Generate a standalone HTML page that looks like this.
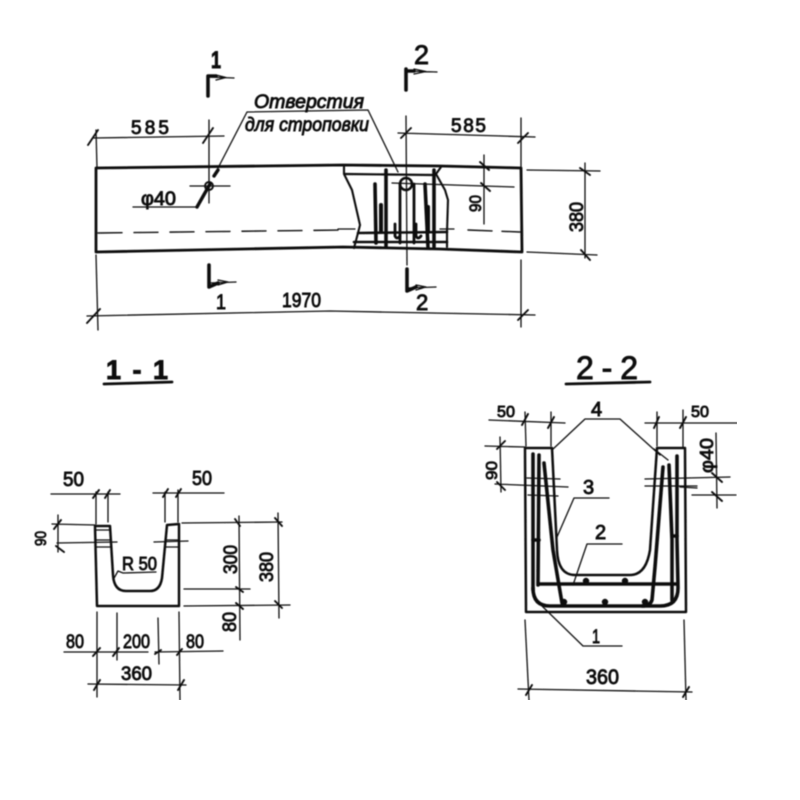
<!DOCTYPE html>
<html><head><meta charset="utf-8"><style>
html,body{margin:0;padding:0;background:#fff}
svg{display:block}
text{font-family:"Liberation Sans",sans-serif;fill:#111;stroke:#111;stroke-width:.9px}
</style></head><body>
<svg width="800" height="800" viewBox="0 0 800 800" xmlns="http://www.w3.org/2000/svg">
<defs><filter id="b" x="0" y="0" width="100%" height="100%"><feGaussianBlur stdDeviation="0.45"/></filter></defs>
<rect width="800" height="800" fill="#fff"/>
<g filter="url(#b)">
<g fill="none" stroke="#111" stroke-linecap="round" stroke-linejoin="round">
<!-- beam -->
<path stroke-width="2.8" d="M96 168L343 165L440 166L521 168L522 252L440 249L343 247L96 252Z"/>
<path stroke-width="1.4" stroke-dasharray="24 12" d="M98 233L345 230"/>
<path stroke-width="1.4" stroke-dasharray="24 10" d="M468 230L520 232"/>
<path stroke-width="1.2" d="M338 229L355 229M440 229L454 229"/>
<!-- dims beam -->
<g stroke-width="1.3">
<path d="M94 138L224 136M96 130L97 168M96 255L98 330"/>
<path d="M209 120L209 203M190 186L230 186"/>
<path d="M87 316L330 311L535 315"/>
<path d="M398 133L535 137M406 116L407 265M521 118L521 168M521 260L521 327"/>
<path d="M527 170L600 171M527 252L597 255M585 163L585 258"/>
<path d="M484 155L484 224M392 183L514 187"/>
<path d="M247 112L368 110L398 172M247 112L217 170"/>
<path d="M133 207L197 207L203 197"/>
</g>
<!-- ticks -->
<g stroke-width="1.9">
<path d="M88 145L98 130M203 143L213 128M401 138L411 128M518 143L528 133M87 323L100 309M518 320L528 310M580 168L590 175M581 250L590 260M480 162L489 170M481 183L490 191"/>
</g>
<path stroke-width="3.4" d="M197 207L210 184M214 176L218 170"/>
<circle cx="209" cy="186" r="4" stroke-width="1.9"/>
<!-- section marks -->
<path stroke-width="3.6" d="M208 76L208 96M209 265L209 287L218 283M406 69L406 90M407 269L407 291L416 287M208 76L216 76M406 71L414 71"/>
<path stroke-width="1.3" d="M208 77L234 78M216 75L226 77.5L216 80M209 283L236 282M218 280L228 282L218 285M407 288L436 287M416 285L426 287L416 290"/>
<path stroke-width="1.3" d="M406 71L437 72M414 69L426 71.5L414 74"/>
<!-- opening -->
<path stroke-width="2.1" d="M344 167L344 174L352 190L360 225L358 233L354 248"/>
<path stroke-width="2.1" d="M441 167L436 174L445 190L448 200L447 232L447 247"/>
<path stroke-width="2.2" d="M345 174L433 175"/>
<path stroke-width="2.6" d="M358 233L447 232M354 242L447 242"/>
<path stroke-width="3.6" d="M375 184L376 243M386 170L386 247M425 184L428 247M434 170L434 247"/>
<path stroke-width="4" d="M381 205L381 232M428 207L428 232"/>
<path stroke-width="2.8" d="M400 184L400 243M414 184L414 243"/>
<circle cx="406" cy="184" r="6" stroke-width="2.6"/>
<path stroke-width="2.8" d="M395 224L395 236Q397 240 400 236M416 224L416 236Q418 240 421 236"/>
<!-- 1-1 -->
<path stroke-width="2.8" d="M172 382L104 384"/>
<path stroke-width="2.5" d="M95 526L110 526L113 575Q114 591 126 591L150 591Q160 591 162 578L167 525L179 524L179 606L97 606Z"/>
<path stroke-width="1.3" d="M96 530L110 530M96 540L111 540M96 547L111 547M165 540L178 540M165 547L178 547"/>
<g stroke-width="1.3">
<path d="M51 494L120 494M96 492L96 524M108 492L108 522M153 493L224 493M165 492L165 522M178 490L178 522"/>
<path d="M52 524L95 525M57 543L117 542M58 515L58 552M154 542L188 541"/>
<path d="M182 523L282 522M239 516L240 640M278 513L279 618M184 589L250 589M184 606L290 605"/>
<path d="M97 612L97 697M117 613L117 660M158 618L159 664M179 612L180 700M64 652L148 652M155 652L223 651"/>
<path d="M88 684L186 685M118 571L123 573L156 572M118 571L113 580"/>
</g>
<g stroke-width="1.9">
<path d="M93 498L99 490M105 498L110 490M163 497L168 489M176 497L181 489M54 529L61 520M56 546L64 552M235 519L240 526M275 518L282 526M236 587L243 592M275 601L282 608M236 603L243 609M93 656L100 648M113 656L119 648M155 654L161 650M177 655L182 649M94 690L100 680M178 690L184 680"/>
</g>
<!-- 2-2 -->
<path stroke-width="2.8" d="M650 382L566 384"/>
<path stroke-width="2.5" d="M525 448L552 448L557 550Q558 575 575 575L630 575Q646 575 650 550L657 448L685 448L686 612L526 612Z"/>
<g stroke-width="3.6">
<path d="M533 454L533 590"/>
<path d="M539 455L538 585"/>
<path d="M544 463L553 550L562 603"/>
<path d="M533 588Q533 606 550 606L660 606Q678 606 678 588L677 540L677 456"/>
<path d="M669 465L672 540L672 600"/>
<path d="M663 467L655 567L652 600Q650 606 642 606"/>
<path d="M540 584L677 584"/>
<path d="M533 540L539 540M672 536L677 536"/>
</g>
<g fill="#111" stroke="none">
<circle cx="564" cy="602" r="3.2"/><circle cx="605" cy="602" r="3.2"/><circle cx="645" cy="602" r="3.2"/><circle cx="586" cy="581" r="3.2"/><circle cx="625" cy="581" r="3.2"/>
</g>
<g stroke-width="1.3">
<path d="M489 420L565 423M525 412L526 446M551 412L551 446M645 423L737 423M657 412L657 446M683 410L683 447"/>
<path d="M485 446L525 447M500 437L501 492M495 484L568 487M527 478L560 479M528 495L558 496M645 486L697 486M645 479L730 477M680 487L697 488M692 495L736 495M716 433L717 508"/>
<path d="M552 450L585 419L620 419L660 455M668 460L654 449"/>
<path d="M557 537L574 498L609 498"/>
<path d="M573 585L587 544L622 544"/>
<path d="M542 606L583 646L622 646"/>
<path d="M525 620L529 700M684 620L686 700M518 689L692 692"/>
</g>
<g stroke-width="1.9">
<path d="M522 425L528 414M548 428L554 417M654 428L659 417M680 428L686 417M497 449L505 441M497 482L505 490M712 473L722 482M712 492L722 501M526 695L532 685M683 697L689 687"/>
</g>
</g>
<!-- text -->
<g font-size="20">
<text x="131" y="134" textLength="38" lengthAdjust="spacing" font-size="19">585</text>
<text x="451" y="132" textLength="35" lengthAdjust="spacing" font-size="19">585</text>
<text x="282" y="307" textLength="39" lengthAdjust="spacingAndGlyphs" font-size="20">1970</text>
<text x="141" y="205" textLength="35" lengthAdjust="spacingAndGlyphs" font-size="19">φ40</text>
<text x="211" y="68" font-size="24" font-weight="bold" textLength="10" lengthAdjust="spacingAndGlyphs">1</text>
<text x="216" y="309" font-size="21" textLength="10" lengthAdjust="spacingAndGlyphs">1</text>
<text x="414" y="64" font-size="27">2</text>
<text x="416" y="310" font-size="22">2</text>
</g>
<text x="254" y="108" font-size="19" font-style="italic" textLength="110" lengthAdjust="spacingAndGlyphs">Отверстия</text>
<text x="245" y="131" font-size="19" font-style="italic" textLength="124" lengthAdjust="spacingAndGlyphs">для строповки</text>
<g font-size="19">
<text transform="translate(481 212) rotate(-90)" textLength="17" lengthAdjust="spacingAndGlyphs" font-size="17">90</text>
<text transform="translate(583 232) rotate(-90)" textLength="30" lengthAdjust="spacingAndGlyphs">380</text>
<text transform="translate(46 546) rotate(-90)" font-size="16" textLength="15" lengthAdjust="spacingAndGlyphs">90</text>
<text transform="translate(237 574) rotate(-90)" textLength="29" lengthAdjust="spacingAndGlyphs">300</text>
<text transform="translate(273 582) rotate(-90)" textLength="30" lengthAdjust="spacingAndGlyphs">380</text>
<text transform="translate(236 632) rotate(-90)" textLength="20" lengthAdjust="spacingAndGlyphs">80</text>
<text x="63" y="486" textLength="21" lengthAdjust="spacingAndGlyphs" font-size="20">50</text>
<text x="192" y="485" textLength="20" lengthAdjust="spacingAndGlyphs" font-size="20">50</text>
<text x="122" y="570" textLength="35" lengthAdjust="spacingAndGlyphs" font-size="18">R 50</text>
<text x="66" y="648" textLength="18" lengthAdjust="spacingAndGlyphs">80</text>
<text x="123" y="648" textLength="27" lengthAdjust="spacingAndGlyphs">200</text>
<text x="186" y="648" textLength="18" lengthAdjust="spacingAndGlyphs">80</text>
<text x="121" y="680" textLength="31" lengthAdjust="spacingAndGlyphs">360</text>
<text x="497" y="417" textLength="18" lengthAdjust="spacingAndGlyphs" font-size="16">50</text>
<text x="691" y="417" textLength="18" lengthAdjust="spacingAndGlyphs" font-size="16">50</text>
<text transform="translate(497 480) rotate(-90)" textLength="19" lengthAdjust="spacingAndGlyphs" font-size="16">90</text>
<text transform="translate(713 473) rotate(-90)" textLength="35" lengthAdjust="spacingAndGlyphs" font-size="18">φ40</text>
<text x="586" y="684" textLength="33" lengthAdjust="spacingAndGlyphs" font-size="21">360</text>
<text x="591" y="416" font-size="20">4</text>
<text x="583" y="494" font-size="20">3</text>
<text x="595" y="539" font-size="20">2</text>
<text x="592" y="643" font-size="19" textLength="8" lengthAdjust="spacingAndGlyphs">1</text>
</g>
<text x="106" y="379" font-size="27" font-weight="bold" textLength="62" lengthAdjust="spacing">1 - 1</text>
<text x="576" y="379" font-size="32" textLength="62" lengthAdjust="spacing">2 - 2</text>
</g>
</svg>
</body></html>
